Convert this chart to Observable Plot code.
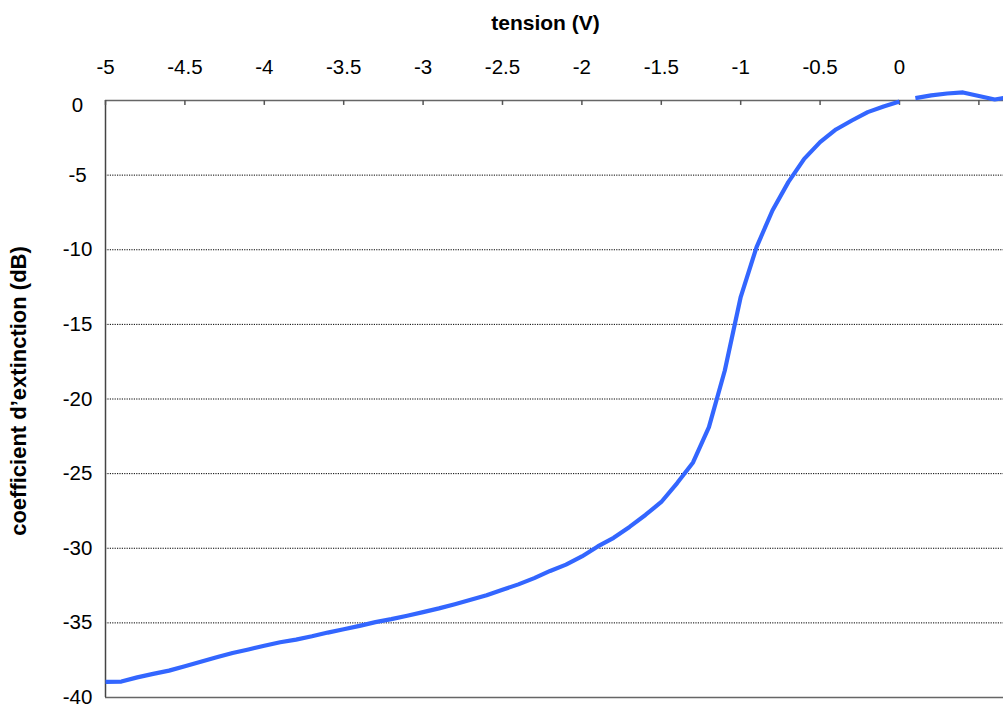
<!DOCTYPE html>
<html>
<head>
<meta charset="utf-8">
<script src="https://cdn.jsdelivr.net/npm/d3@7"></script>
<script src="https://cdn.jsdelivr.net/npm/@observablehq/plot@0.6"></script>
<style>
  html, body { margin: 0; padding: 0; background: #fff; overflow: hidden; }
  #chart svg { display: block; }
</style>
</head>
<body>
<div id="chart"></div>
<script>
// Main segment: tension (V) from -5 to 0 by 0.1
const tensionMain = [
  -5.0, -4.9, -4.8, -4.7, -4.6, -4.5, -4.4, -4.3, -4.2, -4.1,
  -4.0, -3.9, -3.8, -3.7, -3.6, -3.5, -3.4, -3.3, -3.2, -3.1,
  -3.0, -2.9, -2.8, -2.7, -2.6, -2.5, -2.4, -2.3, -2.2, -2.1,
  -2.0, -1.9, -1.8, -1.7, -1.6, -1.5, -1.4, -1.3, -1.2, -1.1,
  -1.0, -0.9, -0.8, -0.7, -0.6, -0.5, -0.4, -0.3, -0.2, -0.1, 0.0
];
const extinctionMain = [
  -38.95, -38.93, -38.65, -38.42, -38.20, -37.90, -37.60, -37.30, -37.02, -36.78,
  -36.53, -36.30, -36.12, -35.90, -35.65, -35.43, -35.20, -34.95, -34.75, -34.52,
  -34.28, -34.03, -33.75, -33.45, -33.15, -32.78, -32.42, -32.00, -31.52, -31.10,
  -30.55, -29.88, -29.30, -28.57, -27.77, -26.90, -25.63, -24.25, -21.88, -18.09,
  -13.17, -9.82, -7.37, -5.47, -3.91, -2.79, -1.94, -1.34, -0.78, -0.40, -0.07
];
// Second segment (positive tension)
const tensionPos = [0.1, 0.2, 0.3, 0.4, 0.5, 0.6, 0.7];
const extinctionPos = [0.16, 0.34, 0.47, 0.54, 0.30, 0.07, 0.23];

const xTicks = [-5, -4.5, -4, -3.5, -3, -2.5, -2, -1.5, -1, -0.5, 0, 0.5];
const xTickLabels = ["-5", "-4.5", "-4", "-3.5", "-3", "-2.5", "-2", "-1.5", "-1", "-0.5", "0", ""];
const yGrid = [-5, -10, -15, -20, -25, -30, -35];
const yTicks = [-5, -10, -15, -20, -25, -30, -35, -40];
const xTitle = "tension (V)";
const yTitle = "coefficient d\u2019extinction (dB)";

const data = [
  ...tensionMain.map((v, i) => ({v, db: extinctionMain[i], seg: "a"})),
  ...tensionPos.map((v, i) => ({v, db: extinctionPos[i], seg: "b"}))
];

const font = "'Liberation Sans', Arial, Helvetica, sans-serif";

const chart = Plot.plot({
  width: 1003,
  height: 709,
  marginLeft: 105,
  marginRight: 0,
  marginTop: 100,
  marginBottom: 12,
  style: {fontFamily: font, background: "#fff"},
  x: {domain: [-5, 0.655], axis: null},
  y: {domain: [-40, 0], axis: null},
  marks: [
    Plot.ruleY(yGrid, {stroke: "#000", strokeWidth: 1, strokeDasharray: "1.2,1.2"}),
    Plot.ruleY([0, -40], {stroke: "#666", strokeWidth: 1.5}),
    Plot.ruleX([-5], {stroke: "#444", strokeWidth: 1.5}),
    Plot.ruleX(xTicks, {y1: 0, y2: -0.33, stroke: "#555", strokeWidth: 1.5}),
    Plot.text(xTicks, {
      x: d => d, text: (d, i) => xTickLabels[i], frameAnchor: "top",
      dy: -27, lineAnchor: "bottom", fontSize: 20.5, fill: "#000"
    }),
    Plot.text(yTicks, {
      y: d => d, text: d => String(d), frameAnchor: "left",
      dx: -28, textAnchor: "middle", fontSize: 20.5, fill: "#000"
    }),
    Plot.text([0], {
      y: d => d, text: d => String(d), frameAnchor: "left",
      dx: -28, dy: 5, textAnchor: "middle", fontSize: 20.5, fill: "#000"
    }),
    Plot.line(data, {
      x: "v", y: "db", z: "seg", stroke: "#3366ff", strokeWidth: 4.2,
      strokeLinecap: "butt", strokeLinejoin: "round"
    }),
    Plot.text([xTitle], {
      frameAnchor: "top", dx: -9, dy: -71, lineAnchor: "bottom",
      fontSize: 21, fontWeight: "bold", fill: "#000"
    }),
    Plot.text([yTitle], {
      frameAnchor: "left", dx: -87, dy: -8, rotate: -90, textAnchor: "middle",
      fontSize: 22, fontWeight: "bold", fill: "#000"
    })
  ]
});
document.getElementById("chart").appendChild(chart);
</script>
</body>
</html>
